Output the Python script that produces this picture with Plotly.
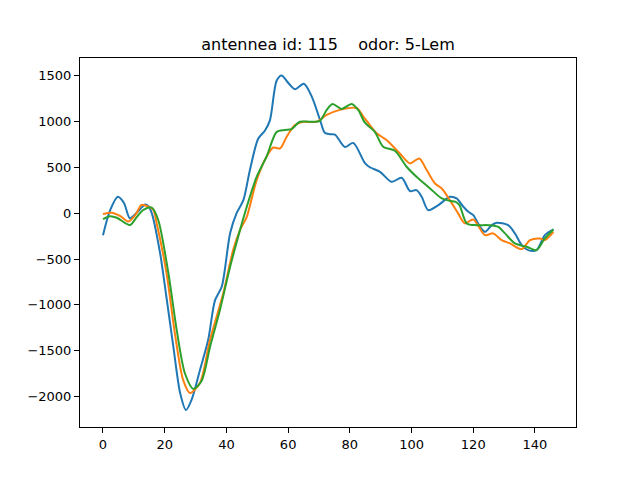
import plotly.graph_objects as go

# Blue series
blue_x = [0, 2.3, 4.8, 6.8, 8.7, 10.5, 12.5, 13.6, 14.6, 15.8, 18.5, 20.5, 22.8, 25, 26.9, 28.7,
          31.5, 34.1, 36.3, 38.5, 41.2, 43.3, 45.5, 47.6, 50.3, 52.5, 54.1, 56.3, 57.9, 60, 62.2,
          65.1, 67.6, 70.3, 71.9, 73.5, 75.2, 78.4, 81.1, 84.9, 86.5, 89.8, 93.5, 96.8, 99.5,
          101.6, 103.3, 105.4, 108.7, 112.4, 114.6, 116.8, 118.4, 120, 122.2, 123.8, 126, 127.6,
          131.3, 133.5, 135.7, 137.8, 140.5, 143.2, 146]
blue_y = [-240, 30, 178, 110, -55, -10, 60, 95, 80, 0, -435, -900, -1455, -1960, -2145, -2035,
          -1700, -1380, -950, -800, -220, 0, 142, 468, 810, 900, 1010, 1445, 1500, 1420, 1350,
          1410, 1275, 1020, 875, 860, 855, 720, 765, 545, 500, 450, 341, 385, 240,
          250, 178, 33, 87, 178, 160, 69, 14, -22, -149, -204, -131, -105,
          -131, -221, -349, -403, -403, -240, -178]

# Orange series
orange_x = [0, 2.8, 5.5, 8.2, 10.5, 12.5, 14.7, 16.3, 17.4, 20.6, 23.3, 26, 28.2, 31.4, 34.7, 39,
            42.2, 44.4, 46.6, 49.8, 53, 55.2, 57.4, 59.5, 62.2, 64.9, 69.2, 72.5, 76.8, 82.2,
            84.3, 86.5, 88.7, 91.9, 96.2, 99.5, 102.5, 104.9, 107.6, 109.8, 112.4, 115.1, 117.3,
            120, 123.8, 126.5, 129.2, 131.9, 135.7, 138.4, 141.6, 143.2, 146]
orange_y = [-10, 5, -30, -90, -20, 90, 70, 35, -110, -655, -1310, -1820, -1960, -1850, -1380, -870,
            -400, -185, -40, 360, 615, 715, 705, 830, 960, 995, 995, 1070, 1125, 1145,
            1055, 960, 869, 796, 650, 542, 596, 469, 323, 269, 142, -3, -112,
            -69, -240, -221, -294, -330, -392, -294, -276, -294, -204]

# Green series
green_x = [0, 2.3, 4.5, 8.7, 11, 13, 15.8, 17.9, 21.2, 23.9, 26.6, 29.3, 32, 34.7, 37.9, 41.2,
           44.4, 46.6, 49.8, 53, 56.3, 59, 61.1, 63.8, 67.1, 70.3, 72.5, 74.4, 77.3, 80.6, 82.7,
           84.9, 88.1, 90.8, 94.6, 98.4, 101.6, 106, 109.8, 112.4, 114.3, 115.5, 117.9, 121.1,
           124.9, 128.1, 130.3, 133.5, 137.3, 140.5, 143.2, 146]
green_y = [-65, -33, -50, -130, -40, 33, 60, -75, -655, -1275, -1750, -1915, -1825, -1455, -1055, -585,
           -185, 70, 395, 615, 885, 905, 915, 995, 995, 1005, 1125, 1190, 1135, 1190, 1125,
           985, 886, 723, 679, 505, 396, 269, 160, 134, 123, 90, -112, -131,
           -131, -149, -221, -330, -367, -403, -276, -178]

title_text = "antennea id: 115\u00a0\u00a0\u00a0\u00a0odor: 5-Lem"

fig = go.Figure()
for xs, ys, col in [(blue_x, blue_y, "#1f77b4"), (orange_x, orange_y, "#ff7f0e"), (green_x, green_y, "#2ca02c")]:
    fig.add_trace(go.Scatter(x=xs, y=ys, mode="lines",
                             line=dict(color=col, width=2, shape="spline", smoothing=0.8),
                             showlegend=False, hoverinfo="skip"))

axis_common = dict(showline=True, linecolor="black", linewidth=1, mirror=True,
                   ticks="outside", ticklen=5, tickwidth=1, tickcolor="black",
                   showgrid=False, zeroline=False,
                   tickfont=dict(family="DejaVu Sans", size=13, color="black"))

fig.update_layout(
    width=640, height=480,
    margin=dict(l=72, r=72, t=50, b=61),
    paper_bgcolor="white", plot_bgcolor="white",
    title=dict(text=title_text, x=0.5, xanchor="center", y=1 - 36 / 480, yanchor="middle",
               yref="container", font=dict(family="DejaVu Sans", size=16, color="black")),
    xaxis=dict(range=[-7.45, 153.3], tickvals=[0, 20, 40, 60, 80, 100, 120, 140], **axis_common),
    yaxis=dict(range=[-2330, 1690], tickvals=[-2000, -1500, -1000, -500, 0, 500, 1000, 1500], **axis_common),
)

fig.write_html("out.html")
